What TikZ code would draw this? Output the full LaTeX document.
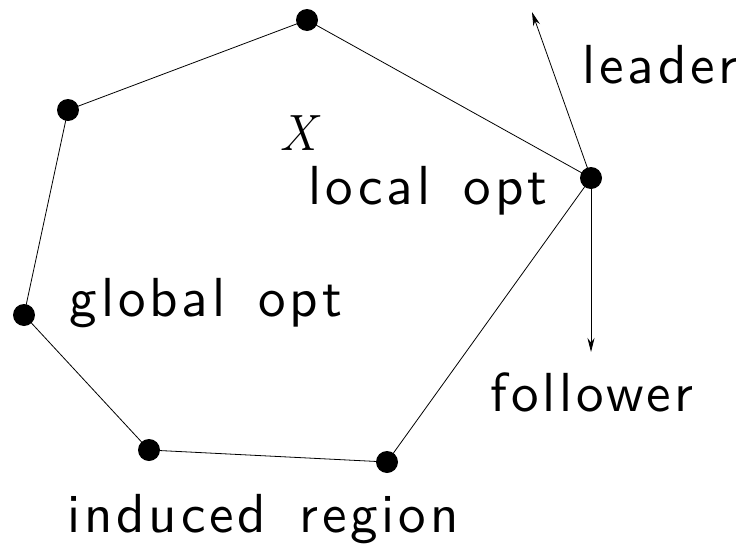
\documentclass[tikz,border=0pt]{standalone}
\usepackage{fontspec}
\newfontfamily\lsans{lmsans10-regular.otf}[LetterSpace=7,WordSpace=1.5]
\usetikzlibrary{arrows.meta}
\begin{document}
\begin{tikzpicture}[x=1pt,y=-1pt,
  dot/.style={circle,fill=black,inner sep=0pt,minimum size=22pt},
  lbl/.style={font=\fontsize{55}{62}\selectfont\lsans,inner sep=0pt},
  edge/.style={line width=0.8pt},
  arr/.style={line width=0.8pt,-{Stealth[length=14pt,width=7pt]}}]
\useasboundingbox (0,0) rectangle (748,544);
\node[dot] (a) at (307,20) {};
\node[dot] (b) at (68,110) {};
\node[dot] (c) at (24,315) {};
\node[dot] (d) at (149,450) {};
\node[dot] (e) at (387,462) {};
\node[dot] (f) at (591,178) {};
\coordinate (up) at (532,12);
\coordinate (dn) at (591,352);
\draw[edge] (a.center) -- (b.center) -- (c.center) -- (d.center) -- (e.center) -- (f.center) -- (a.center);
\draw[arr] (f.center) -- (up);
\draw[arr] (f.center) -- (dn);
\node[lbl,anchor=base] (leader) at (660,83) {leader};
\node[lbl,anchor=base] (local) at (428,204) {local opt};
\node[lbl,anchor=base] (global) at (206,316) {global opt};
\node[lbl,anchor=base] (follower) at (592,411) {follower};
\node[lbl,anchor=base] (induced) at (263,532) {induced region};
\node[font=\fontsize{51}{60}\selectfont\rmfamily\itshape,inner sep=0pt,anchor=base] (X) at (298,150) {X};
\end{tikzpicture}
\end{document}
